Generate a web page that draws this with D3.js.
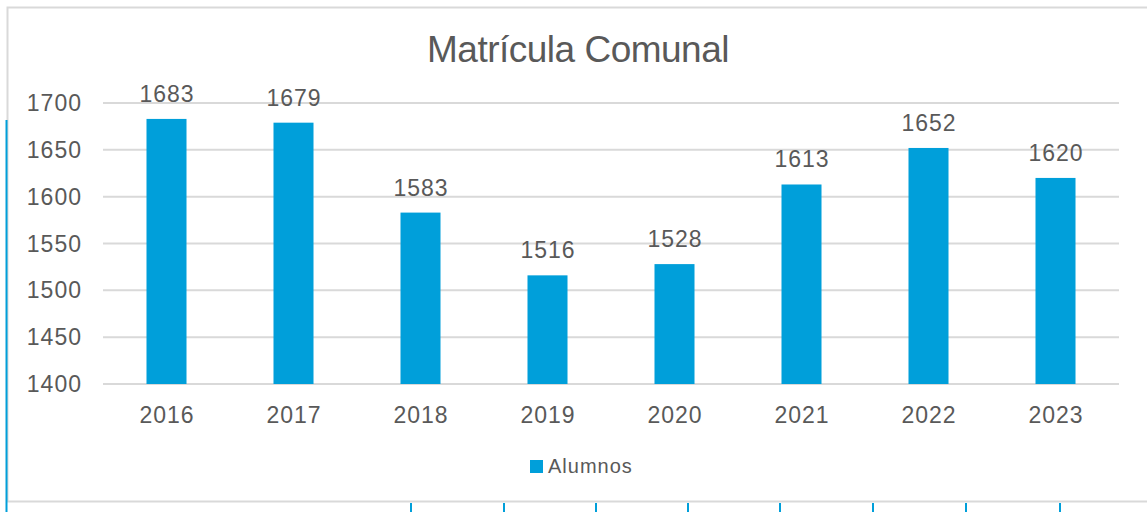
<!DOCTYPE html>
<html>
<head>
<meta charset="utf-8">
<script src="https://cdn.jsdelivr.net/npm/d3@7"></script>
<style>
  body { margin: 0; background: #fff; }
  text { font-family: "Liberation Sans", Arial, sans-serif; fill: #595959; }
</style>
</head>
<body>
<svg id="chart" width="1147" height="512"></svg>
<script>
// data
const years = ["2016", "2017", "2018", "2019", "2020", "2021", "2022", "2023"];
const alumnos = [1683, 1679, 1583, 1516, 1528, 1613, 1652, 1620];
const yTicks = [1400, 1450, 1500, 1550, 1600, 1650, 1700];
const seriesName = "Alumnos";
const chartTitle = "Matrícula Comunal";

const svg = d3.select("#chart");
const barColor = "#009fda";
const gridColor = "#d9d9d9";
const numSize = "23px";
const numSpacing = 1; // the sheet font has wider digits

// chart frame
svg.append("rect")
  .attr("x", 7.5).attr("y", 7.5)
  .attr("width", 1160).attr("height", 494)
  .attr("fill", "none")
  .attr("stroke", gridColor)
  .attr("stroke-width", 2);

// blue marks from the sheet behind the chart
svg.append("line")
  .attr("x1", 6.5).attr("x2", 6.5)
  .attr("y1", 120).attr("y2", 512)
  .attr("stroke", barColor).attr("stroke-width", 2);
const sheetTicks = [411, 504, 596, 688, 780, 873, 966, 1060];
svg.selectAll(".sheetTick")
  .data(sheetTicks)
  .join("line")
  .attr("x1", d => d).attr("x2", d => d)
  .attr("y1", 503).attr("y2", 512)
  .attr("stroke", barColor).attr("stroke-width", 2);

// scales
const x = d3.scaleBand()
  .domain(years)
  .range([103, 1119])
  .paddingInner(0.685)
  .paddingOuter(0.3425);

const y = d3.scaleLinear()
  .domain([1400, 1700])
  .range([384, 103]);

// gridlines
svg.append("g")
  .selectAll("line")
  .data(yTicks)
  .join("line")
  .attr("x1", 103).attr("x2", 1119)
  .attr("y1", d => y(d)).attr("y2", d => y(d))
  .attr("stroke", gridColor)
  .attr("stroke-width", 2);

// y axis labels
svg.append("g")
  .selectAll("text")
  .data(yTicks)
  .join("text")
  .attr("x", 81 + numSpacing)
  .attr("y", d => y(d) + 8)
  .attr("text-anchor", "end")
  .style("font-size", numSize)
  .style("letter-spacing", numSpacing + "px")
  .text(d => d);

// bars
svg.append("g")
  .selectAll("rect")
  .data(alumnos)
  .join("rect")
  .attr("x", (d, i) => x(years[i]))
  .attr("y", d => y(d))
  .attr("width", x.bandwidth())
  .attr("height", d => y(1400) - y(d))
  .attr("fill", barColor);

// value labels
svg.append("g")
  .selectAll("text")
  .data(alumnos)
  .join("text")
  .attr("x", (d, i) => x(years[i]) + x.bandwidth() / 2 + numSpacing / 2)
  .attr("y", d => y(d) - 17)
  .attr("text-anchor", "middle")
  .style("font-size", numSize)
  .style("letter-spacing", numSpacing + "px")
  .text(d => d);

// x axis labels
svg.append("g")
  .selectAll("text")
  .data(years)
  .join("text")
  .attr("x", d => x(d) + x.bandwidth() / 2 + numSpacing / 2)
  .attr("y", 423)
  .attr("text-anchor", "middle")
  .style("font-size", numSize)
  .style("letter-spacing", numSpacing + "px")
  .text(d => d);

// title
svg.append("text")
  .attr("x", 578)
  .attr("y", 62)
  .attr("text-anchor", "middle")
  .style("font-size", "37px")
  .style("letter-spacing", "-0.5px")
  .text(chartTitle);

// legend
svg.append("rect")
  .attr("x", 530).attr("y", 460)
  .attr("width", 13).attr("height", 13)
  .attr("fill", barColor);
svg.append("text")
  .attr("x", 548)
  .attr("y", 473)
  .style("font-size", "20px")
  .style("letter-spacing", "1px")
  .text(seriesName);
</script>
</body>
</html>
